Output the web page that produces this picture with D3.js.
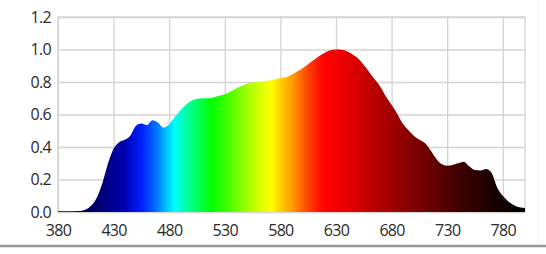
<!DOCTYPE html>
<html>
<head>
    <meta charset="UTF-8">
    <script src="https://cdn.jsdelivr.net/npm/d3@7"></script>
    <style>
        body { margin: 0; background: #fff; }
        .tick text { font-family: "Open Sans", sans-serif; font-size: 16px; fill: #2a2a2a; letter-spacing: -0.7px; }
    </style>
</head>
<body>
<svg id="chart" width="546" height="254"></svg>

<script>

// wavelength (nm) and relative intensity, read every 5 nm
let wavelengths = d3.range(380, 801, 5);
let intensity = [
    0.005, 0.005, 0.005, 0.005, 0.006, 0.015, 0.04, 0.09, 0.18, 0.30,     // 380-425
    0.39, 0.43, 0.445, 0.47, 0.53, 0.545, 0.535, 0.565, 0.55, 0.52,       // 430-475
    0.54, 0.585, 0.625, 0.66, 0.685, 0.695, 0.70, 0.70, 0.705, 0.715,     // 480-525
    0.725, 0.74, 0.76, 0.775, 0.79, 0.795, 0.80, 0.805, 0.81, 0.815,      // 530-575
    0.825, 0.83, 0.845, 0.865, 0.885, 0.91, 0.935, 0.96, 0.98, 0.995,     // 580-625
    1.0, 0.998, 0.99, 0.97, 0.945, 0.905, 0.86, 0.815, 0.77, 0.71,        // 630-675
    0.66, 0.605, 0.545, 0.505, 0.47, 0.445, 0.425, 0.38, 0.33, 0.295,     // 680-725
    0.285, 0.29, 0.30, 0.31, 0.28, 0.258, 0.255, 0.265, 0.24, 0.15,       // 730-775
    0.10, 0.065, 0.042, 0.03, 0.025                                       // 780-800
];
let x_ticks = [380, 430, 480, 530, 580, 630, 680, 730, 780];
let y_ticks = [0, 0.2, 0.4, 0.6, 0.8, 1.0, 1.2];

// spectrum colours along the wavelength axis
let stop_nm = [380, 410, 425, 440, 455, 468, 478, 485, 492, 505, 518, 535, 550, 565, 572,
               580, 590, 600, 612, 620, 640, 660, 680, 700, 720, 740, 760, 780, 800];
let stop_color = ["#000030", "#000060", "#00008a", "#0000b0", "#0020ff", "#0070ff", "#00c8ff",
                  "#00ffff", "#00ffc0", "#00ff60", "#00ff00", "#50ff00", "#a0ff00", "#e8ff00",
                  "#ffff00", "#ffd000", "#ffa000", "#ff6000", "#ff2000", "#ff0000", "#e80000",
                  "#c00000", "#a00000", "#800000", "#600000", "#400000", "#280000", "#100000", "#000000"];

let svg = d3.select("#chart");
let X = d3.scaleLinear([380, 800], [58, 525]);
let Y = d3.scaleLinear([0, 1.2], [212, 17]);

// gradient
let grad = svg.append("defs").append("linearGradient")
    .attr("id", "spectrum")
    .attr("gradientUnits", "userSpaceOnUse")
    .attr("x1", X(380)).attr("x2", X(800))
    .attr("y1", 0).attr("y2", 0);
grad.selectAll("stop")
    .data(stop_nm)
    .join("stop")
    .attr("offset", d => (d - 380) / 420)
    .attr("stop-color", (d, i) => stop_color[i]);

// grid + labels
let gx = svg.append("g")
    .attr("transform", `translate(0,${Y(0)})`)
    .call(d3.axisBottom(X).tickValues(x_ticks).tickSize(-(Y(0) - Y(1.2))).tickPadding(11).tickFormat(d3.format("d")));
let gy = svg.append("g")
    .attr("transform", `translate(${X(380)},0)`)
    .call(d3.axisLeft(Y).tickValues(y_ticks).tickSize(-(X(800) - X(380))).tickPadding(7).tickFormat(d3.format(".1f")));
[gx, gy].forEach(g => {
    g.select(".domain").remove();
    g.selectAll(".tick line").attr("stroke", "#d4d4d4").attr("stroke-width", 1.3);
});
gx.selectAll(".tick text").attr("dy", "0.8em");

// frame
svg.append("rect")
    .attr("x", X(380)).attr("y", Y(1.2))
    .attr("width", X(800) - X(380)).attr("height", Y(0) - Y(1.2))
    .attr("fill", "none").attr("stroke", "#d4d4d4").attr("stroke-width", 1.3);

// spectrum area
let area = d3.area()
    .x((d, i) => X(wavelengths[i]))
    .y0(Y(0))
    .y1(d => Y(d))
    .curve(d3.curveMonotoneX);
svg.append("path")
    .datum(intensity)
    .attr("d", area)
    .attr("fill", "url(#spectrum)");

// outer frame of the picture
svg.append("line")
    .attr("x1", 0).attr("x2", 546).attr("y1", 246).attr("y2", 246)
    .attr("stroke", "#999").attr("stroke-width", 2.5);
svg.append("line")
    .attr("x1", 538).attr("x2", 538).attr("y1", 0).attr("y2", 245)
    .attr("stroke", "#eee").attr("stroke-width", 1);

</script>
</body>
</html>
